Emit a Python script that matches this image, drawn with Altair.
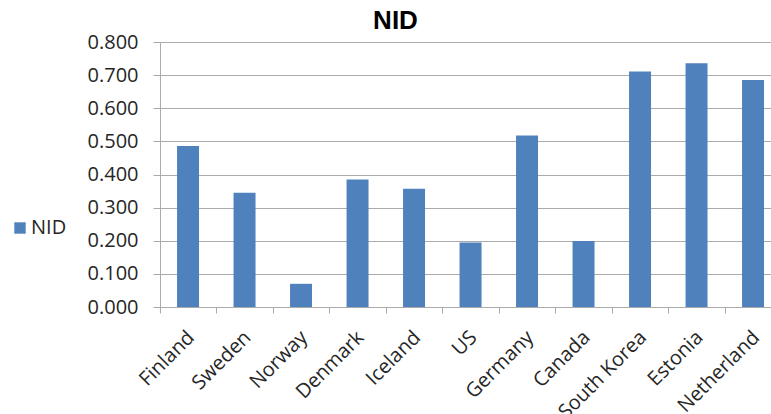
import altair as alt
import pandas as pd

# Country categories and their NID scores
countries = ["Finland", "Sweden", "Norway", "Denmark", "Iceland", "US",
             "Germany", "Canada", "South Korea", "Estonia", "Netherland"]
nid_values = [0.486, 0.345, 0.070, 0.385, 0.357, 0.195,
              0.518, 0.199, 0.711, 0.736, 0.685]
y_ticks = [0.0, 0.1, 0.2, 0.3, 0.4, 0.5, 0.6, 0.7, 0.8]

df = pd.DataFrame({"country": countries, "value": nid_values, "series": "NID"})

LABEL_FONT = "Open Sans"
TEXT_COLOR = "#262626"
GRID_COLOR = "#ababab"

bars = alt.Chart(df).mark_bar(color="#4F81BD").encode(
    x=alt.X(
        "country:N",
        sort=countries,
        title=None,
        scale=alt.Scale(paddingInner=0.611, paddingOuter=0.2125, align=0.71),
        axis=alt.Axis(
            labelAngle=-45,
            labelAlign="right",
            labelBaseline="middle",
            labelFont=LABEL_FONT,
            labelFontSize=20,
            labelColor=TEXT_COLOR,
            labelPadding=21,
            labelOffset=31,
            tickOffset=-28.25,
            tickSize=6,
            tickColor=GRID_COLOR,
            domainColor=GRID_COLOR,
            grid=False,
        ),
    ),
    y=alt.Y(
        "value:Q",
        title=None,
        scale=alt.Scale(domain=[0, 0.8], nice=False),
        axis=alt.Axis(
            values=y_ticks,
            format=".3f",
            labelFont=LABEL_FONT,
            labelFontSize=20,
            labelColor=TEXT_COLOR,
            labelPadding=15,
            tickSize=7,
            tickColor=GRID_COLOR,
            domainColor=GRID_COLOR,
            gridColor=GRID_COLOR,
            gridWidth=1,
        ),
    ),
    color=alt.Color(
        "series:N",
        scale=alt.Scale(range=["#4F81BD"]),
        legend=alt.Legend(
            title=None,
            orient="none",
            legendX=-150,
            legendY=176,
            symbolType="square",
            symbolSize=130,
            symbolStrokeWidth=0,
            labelFont=LABEL_FONT,
            labelFontSize=20,
            labelColor=TEXT_COLOR,
            labelOffset=1,
        ),
    ),
)

chart = bars.properties(
    width=611,
    height=265,
    title=alt.TitleParams(
        "NID",
        font="Liberation Sans",
        fontSize=26,
        fontWeight="bold",
        color="#000000",
        anchor="middle",
        dx=-70,
        dy=14,
        offset=12,
    ),
    autosize=alt.AutoSizeParams(type="none"),
    padding={"left": 160, "top": 42, "right": 0, "bottom": 107},
).configure_view(stroke=None).configure(background="white")

chart.save("out.html", embed_options={"renderer": "svg", "actions": False})
